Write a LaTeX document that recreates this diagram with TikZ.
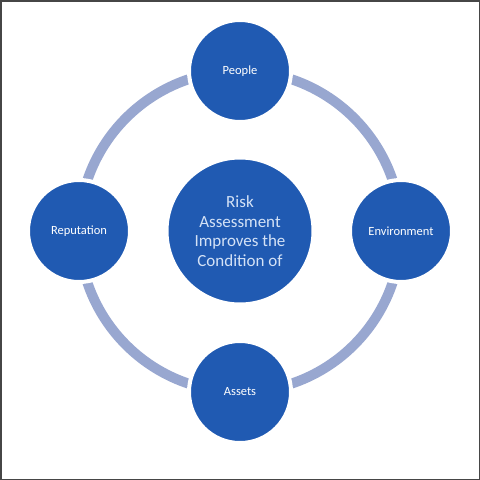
\documentclass[tikz,border=0pt]{standalone}
\usepackage{fontspec}
\setmainfont{Carlito}
\usetikzlibrary{backgrounds}
\definecolor{nodeblue}{RGB}{32,90,178}
\definecolor{ringblue}{RGB}{152,167,208}
\definecolor{textlight}{RGB}{212,226,246}
\definecolor{framec}{RGB}{70,70,70}
\tikzset{
  sat/.style={circle, fill=nodeblue, draw=white, line width=4pt, minimum size=102pt, inner sep=0pt,
              text=white, font=\fontsize{12.5}{14}\selectfont},
  hub/.style={circle, fill=nodeblue, draw=white, line width=4pt, minimum size=147pt, inner sep=0pt,
              text=textlight, align=center, font=\fontsize{17}{19.5}\selectfont},
  ringline/.style={draw=ringblue, line width=10pt}
}
\begin{document}
\begin{tikzpicture}[x=1pt,y=-1pt]
\useasboundingbox (0,0) rectangle (480,480);
\node[hub] (hub) at (240,231) {Risk\\Assessment\\Improves the\\Condition of};
\node[sat] (people) at (240,71) {People};
\node[sat] (env) at (401,231) {Environment};
\node[sat] (assets) at (240,392) {Assets};
\node[sat] (rep) at (79,231) {Reputation};
\begin{scope}[on background layer]
  \fill[white] (0,0) rectangle (480,480);
  \draw[ringline] (people.center) to[bend left=45] (env.center);
  \draw[ringline] (env.center) to[bend left=45] (assets.center);
  \draw[ringline] (assets.center) to[bend left=45] (rep.center);
  \draw[ringline] (rep.center) to[bend left=45] (people.center);
\end{scope}
\draw[framec, line width=1.5pt] (0.75,0.75) rectangle (479.25,479.25);
\end{tikzpicture}
\end{document}
